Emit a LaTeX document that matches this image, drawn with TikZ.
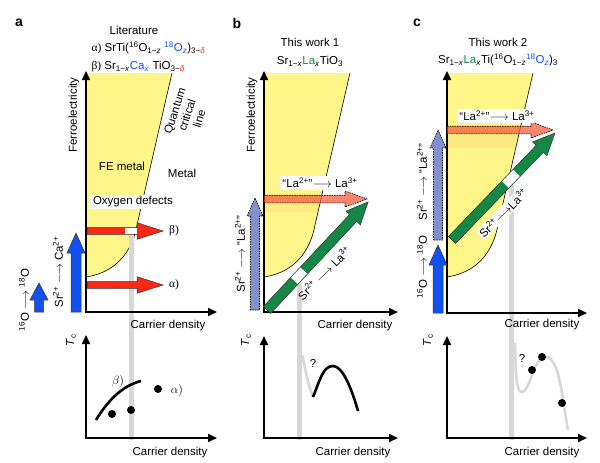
\documentclass[tikz,border=0pt]{standalone}
\usepackage{fontspec}
\setmainfont{Liberation Sans}
\newfontfamily\grk{Liberation Serif}
\usetikzlibrary{arrows.meta}

\definecolor{fever}{RGB}{255,246,138}
\definecolor{oxred}{RGB}{250,40,20}
\definecolor{cablue}{RGB}{20,80,240}
\definecolor{lablue}{RGB}{130,145,205}
\definecolor{lagreen}{RGB}{20,135,70}
\definecolor{laorange}{RGB}{245,95,60}
\definecolor{tcgray}{RGB}{215,215,215}

\newcommand{\sbs}[1]{\textsubscript{#1}}
\newcommand{\sps}[1]{\textsuperscript{#1}}
% fat arrow: [style]{tail x,y}{angle}{length}{shaft half width}{head half width}{head length}
\newcommand{\fatarrow}[7][]{%
  \draw[#1,shift={(#2)},rotate=#3] (0,-#5) -- ({#4-#7},-#5) -- ({#4-#7},-#6) -- (#4,0)
    -- ({#4-#7},#6) -- ({#4-#7},#5) -- (0,#5) -- cycle;}
% yellow FE metal region, left edge at x=#1
\newcommand{\feregion}[1]{%
  \fill[fever,shift={(#1,0)}] (0,73) -- (86,73) -- (51,225) .. controls (44,262) and (20,274) .. (0,277) -- cycle;
  \draw[line width=0.6pt,shift={(#1,0)}] (86,73) -- (51,225) .. controls (44,262) and (20,274) .. (0,277);}

\begin{document}
\begin{tikzpicture}[x=1pt,y=-1pt,font=\fontsize{11.5}{13}\selectfont,
  axes/.style={line width=1.8pt,line join=miter,{Triangle[length=9pt,width=8pt]}-{Triangle[length=9pt,width=8pt]}},
  panel/.style={font=\fontsize{14}{16}\selectfont\bfseries},
  whitebox/.style={fill=white,inner sep=2pt},
  guide/.style={tcgray,line width=5pt},
  tccurve/.style={line width=2.6pt},
  dot/.style={circle,fill=black,inner sep=0pt,minimum size=8pt},
  arrowline/.style={draw=black!80,line width=0.5pt},
  dashline/.style={draw=black,line width=0.6pt,dash pattern=on 1.5pt off 1pt}]
\useasboundingbox (0,0) rectangle (600,463);

% yellow regions
\feregion{86}
\feregion{264}
\feregion{447}
\fill[laorange,opacity=0.08] (264,204) -- (320,204) -- (318,212) -- (264,212) -- cycle;
\fill[laorange,opacity=0.08] (447,135) -- (519,135) -- (516,148) -- (447,148) -- cycle;

% grey guide lines
\draw[guide] (131.5,236) -- (131.5,440);
\draw[guide] (299,282) -- (299,440);
\draw[guide] (511,184) -- (511,440);

% axes
\coordinate (ay) at (86,71);  \coordinate (ao) at (86,312);  \coordinate (ax) at (217,312);
\coordinate (by) at (264,71); \coordinate (bo) at (264,312); \coordinate (bx) at (398,312);
\coordinate (cy) at (447,71); \coordinate (co) at (447,313); \coordinate (cx) at (587,313);
\coordinate (aty) at (86,335);  \coordinate (ato) at (86,438);  \coordinate (atx) at (217,438);
\coordinate (bty) at (264,336); \coordinate (bto) at (264,438); \coordinate (btx) at (398,438);
\coordinate (cty) at (447,336); \coordinate (cto) at (447,438); \coordinate (ctx) at (587,438);
\draw[axes] (ay) -- (ao) -- (ax);
\draw[axes] (by) -- (bo) -- (bx);
\draw[axes] (cy) -- (co) -- (cx);
\draw[axes] (aty) -- (ato) -- (atx);
\draw[axes] (bty) -- (bto) -- (btx);
\draw[axes] (cty) -- (cto) -- (ctx);

% panel a
\node[panel] (pa) at (19,23) {a};
\node (lita) at (134,30) {Literature};
\node[anchor=west] (alphaf) at (88,48) {{\grk α)} SrTi(\sps{16}O\sbs{1−\textit{z}} \textcolor{cablue}{\sps{18}O\sbs{\textit{z}}})\sbs{3−\textcolor{oxred}{\textit{δ}}}};
\node[anchor=west] (betaf) at (88,67) {{\grk β)} Sr\sbs{1−\textit{x}}\textcolor{cablue}{Ca\sbs{\textit{x}}} TiO\sbs{3−\textcolor{oxred}{\textit{δ}}}};
\node[rotate=90] (fea) at (74,115) {Ferroelectricity};
\node[rotate=72,align=center] (qcl) at (187,115) {Quantum\\critical\\line};
\node (fem) at (122,166) {FE metal};
\node (met) at (182,173) {Metal};
\node[whitebox,inner xsep=4pt] (oxd) at (133,202) {Oxygen defects};
\fatarrow[fill=oxred,arrowline]{87,231}{0}{76}{3.4}{8.3}{26}
\fill[white] (125,228) rectangle (137,234);
\fatarrow[fill=oxred,arrowline]{87,285}{0}{76}{3.4}{8.3}{26}
\node (betaa) at (174,231) {{\grk β)}};
\node (alphaa) at (174,285) {{\grk α)}};
\fatarrow[fill=cablue,arrowline]{76,312}{90}{79}{5}{9}{20}
\fatarrow[fill=cablue,arrowline]{39,312}{90}{29}{4.5}{9}{17}
\node[rotate=90] (srca) at (58,272) {Sr\sps{2+} $\longrightarrow$ Ca\sps{2+}};
\node[rotate=90] (oxa) at (24,300) {\sps{16}O $\longrightarrow$ \sps{18}O};
\node (cda) at (168,326) {Carrier density};
\node[rotate=90] (tca) at (71,340) {\textit{T}\sbs{c}};
\node (cdat) at (170,453) {Carrier density};
\draw[tccurve] (96,420) .. controls (110,397) and (125,385) .. (141,381);
\node (betat) at (118,381) {$\beta)$};
\node[dot] (da1) at (112,414) {};
\node[dot] (da2) at (131,410) {};
\node[dot] (da3) at (158,389) {};
\node (alphat) at (177,390) {$\alpha)$};

% panel b
\node[panel] (pb) at (237,23) {b};
\node (workb) at (310,42) {This work 1};
\node (formb) at (310,61) {Sr\sbs{1−\textit{x}}\textcolor{lagreen}{La}\sbs{\textit{x}}TiO\sbs{3}};
\node[rotate=90] (feb) at (252,115) {Ferroelectricity};
\fatarrow[fill=lablue,dashline]{255,310}{90}{112}{4.5}{8}{18}
\fatarrow[fill=laorange,fill opacity=0.75,dashline]{264,199}{0}{103}{3.8}{8}{22}
\fatarrow[fill=lagreen,arrowline]{267,310}{46.9}{148}{5}{10}{22}
\fill[white,shift={(267,310)},rotate=46.9] (40,-4.5) rectangle (54,4.5);
\node[whitebox] (lab) at (320,183) {“La\sps{2+}”$\longrightarrow$ La\sps{3+}};
\node[rotate=90] (srlb) at (240,254) {Sr\sps{2+} $\longrightarrow$ “La\sps{2+}”};
\node[rotate=45] (srgb) at (324,273) {Sr\sps{2+} $\longrightarrow$ La\sps{3+}};
\node (cdb) at (355,326) {Carrier density};
\node[rotate=90] (tcb) at (246,340) {\textit{T}\sbs{c}};
\node (cdbt) at (353,453) {Carrier density};
\draw[tccurve,tcgray] (302,355) .. controls (306,372) and (309,388) .. (313,397);
\draw[tccurve] (313,397) .. controls (320,380) and (323,366) .. (333,366) .. controls (343,366) and (352,390) .. (358,411);
\node (qb) at (313,363) {?};

% panel c
\node[panel] (pc) at (417,23) {c};
\node (workc) at (498,42) {This work 2};
\node (formc) at (498,60) {Sr\sbs{1−\textit{x}}\textcolor{lagreen}{La}\sbs{\textit{x}}Ti(\sps{16}O\sbs{1−\textit{z}}\textcolor{cablue}{\sps{18}O\sbs{\textit{z}}})\sbs{3}};
\fatarrow[fill=lablue,dashline]{438,240}{90}{110}{4.5}{8}{18}
\fatarrow[fill=cablue,arrowline]{438,313}{90}{68}{5}{9}{20}
\fatarrow[fill=laorange,fill opacity=0.75,dashline]{447,130}{0}{106}{3.8}{8}{22}
\fatarrow[fill=lagreen,arrowline]{452,240}{46.1}{148.5}{5}{10}{22}
\fill[white,shift={(452,240)},rotate=46.1] (77,-4.5) rectangle (93,4.5);
\node[whitebox] (lac) at (497,116) {“La\sps{2+}”$\longrightarrow$ La\sps{3+}};
\node[rotate=90] (srlc) at (422,182) {Sr\sps{2+} $\longrightarrow$ “La\sps{2+}”};
\node[rotate=90] (oxc) at (422,267) {\sps{16}O $\longrightarrow$ \sps{18}O};
\node[rotate=45,fill=white,inner sep=1pt] (srgc) at (503,213) {Sr\sps{2+}$\longrightarrow$La\sps{3+}};
\node (cdc) at (542,325) {Carrier density};
\node[rotate=90] (tcc) at (428,340) {\textit{T}\sbs{c}};
\node (cdct) at (542,453) {Carrier density};
\draw[tccurve,tcgray] (515,343) .. controls (516,375) and (516,392) .. (522,392) .. controls (530,392) and (533,358) .. (545,357) .. controls (560,356) and (562,400) .. (568,430);
\node (qc) at (522,358) {?};
\node[dot] (dc1) at (532,370) {};
\node[dot] (dc2) at (542,357) {};
\node[dot] (dc3) at (562,403) {};
\end{tikzpicture}
\end{document}
